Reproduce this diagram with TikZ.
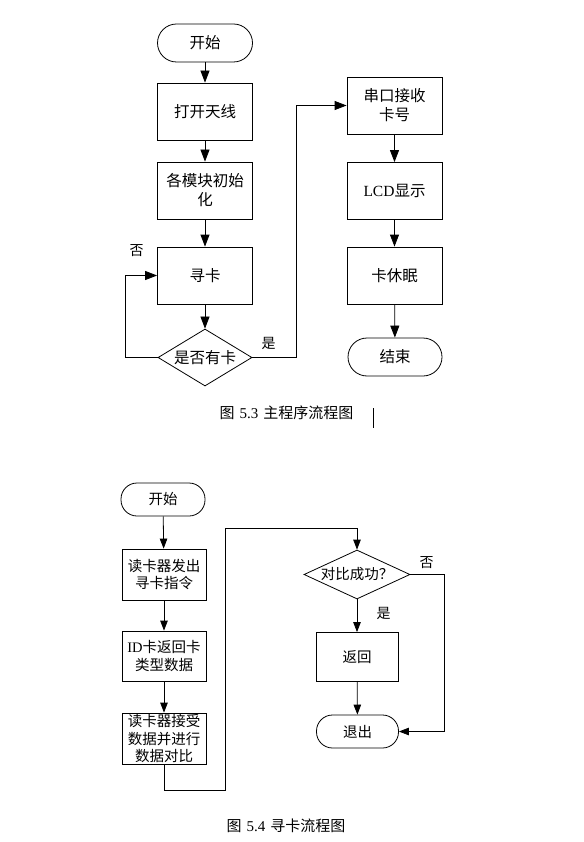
\documentclass[tikz,border=0pt]{standalone}
\usepackage{fontspec}
\setmainfont{Liberation Serif}
\newfontfamily\cjk{Noto Sans CJK SC}
\newcommand{\lat}{\fontspec{Liberation Serif}}
\usetikzlibrary{arrows.meta,shapes.geometric}
\begin{document}
\begin{tikzpicture}[x=1pt,y=-1pt,
  line width=0.8pt,
  bigbox/.style={draw, rectangle, inner sep=0pt, align=center, minimum width=95pt, minimum height=57pt, font=\cjk\fontsize{15.5}{19}\selectfont},
  bigterm/.style={draw, rectangle, rounded corners=19pt, inner sep=0pt, minimum width=95pt, minimum height=38pt, font=\cjk\fontsize{15.5}{19}\selectfont},
  bigdec/.style={draw, diamond, aspect=1.65, inner sep=0pt, minimum width=94pt, minimum height=57pt, font=\cjk\fontsize{15.5}{19}\selectfont},
  smbox/.style={draw, rectangle, inner sep=0pt, align=center, minimum width=84pt, minimum height=51pt, font=\cjk\fontsize{14.5}{17.5}\selectfont},
  smterm/.style={draw, rectangle, rounded corners=16pt, inner sep=0pt, minimum width=84pt, minimum height=33pt, font=\cjk\fontsize{14.5}{17.5}\selectfont},
  smdec/.style={draw, diamond, aspect=2.16, inner sep=0pt, minimum width=106pt, minimum height=49pt, font=\cjk\fontsize{14.5}{17.5}\selectfont},
  lbl/.style={inner sep=0pt, font=\cjk\fontsize{14}{16}\selectfont},
  captext/.style={inner sep=0pt, font=\cjk\fontsize{15}{17}\selectfont},
  arrA/.style={-{Triangle[length=12pt,width=9pt]}},
  arrB/.style={-{Triangle[length=10pt,width=7.5pt]}}
]
\useasboundingbox (0,0) rectangle (583,842);
\fill[white] (0,0) rectangle (583,842);

% ---- Figure 5.3 ----
\node[bigterm] (s1) at (205,43) {开始};
\node[bigbox] (b1) at (205,111.5) {打开天线};
\node[bigbox] (b2) at (205,190.5) {各模块初始\\化};
\node[bigbox] (b3) at (205,275.5) {寻卡};
\node[bigdec] (d1) at (205,357.5) {是否有卡};
\node[bigbox] (r1) at (394.5,105.5) {串口接收\\卡号};
\node[bigbox] (r2) at (394.5,191) {{\lat LCD}显示};
\node[bigbox] (r3) at (394.5,275.5) {卡休眠};
\node[bigterm, minimum width=94pt] (e1) at (395,357) {结束};

\draw[arrA] (s1) -- (b1);
\draw[arrA] (b1) -- (b2);
\draw[arrA] (b2) -- (b3);
\draw[arrA] (b3) -- (d1);
\coordinate (l1) at (125,357.5);
\draw[arrA] (d1.west) -- (l1) |- (b3.west);
\coordinate (q1) at (296.5,357.5);
\draw[arrA] (d1.east) -- (q1) |- (r1.west);
\draw[arrA] (r1) -- (r2);
\draw[arrA] (r2) -- (r3);
\draw[arrA] (r3) -- (e1);
\node[lbl] (no1) at (136.5,251) {否};
\node[lbl] (yes1) at (268.5,343.5) {是};

\node[captext] (cap1) at (286.5,413) {图\hspace{5pt}{\lat 5.3}\hspace{5pt}主程序流程图};
\coordinate (cur1) at (373.5,408);
\coordinate (cur2) at (373.5,428);
\draw[line width=1.6pt] (cur1) -- (cur2);

% ---- Figure 5.4 ----
\node[smterm] (s2) at (163,499.5) {开始};
\node[smbox] (c1) at (164,574.5) {读卡器发出\\寻卡指令};
\node[smbox, minimum height=50pt] (c2) at (164,656) {{\lat ID}卡返回卡\\类型数据};
\node[smbox] (c3) at (164,738.5) {读卡器接受\\数据并进行\\数据对比};
\node[smdec] (d2) at (357,574.5) {对比成功？};
\node[smbox, minimum width=82pt, minimum height=49pt] (rt) at (357,657) {返回};
\node[smterm, minimum width=82pt] (t2) at (357.5,731.5) {退出};

\draw[arrB] (s2) -- (c1);
\draw[arrB] (c1) -- (c2);
\draw[arrB] (c2) -- (c3);
\coordinate (p1) at (164,790);
\coordinate (p2) at (225,790);
\coordinate (p3) at (225,528);
\draw[arrB] (c3.south) -- (p1) -- (p2) -- (p3) -| (d2.north);
\draw[arrB] (d2) -- (rt);
\draw[arrB] (rt) -- (t2);
\coordinate (q2) at (444,574.5);
\draw[arrB] (d2.east) -- (q2) |- (t2.east);
\node[lbl] (no2) at (426.5,562.5) {否};
\node[lbl] (yes2) at (383.5,613.5) {是};

\node[captext] (cap2) at (286,825.5) {图\hspace{5pt}{\lat 5.4}\hspace{5pt}寻卡流程图};
\end{tikzpicture}
\end{document}
